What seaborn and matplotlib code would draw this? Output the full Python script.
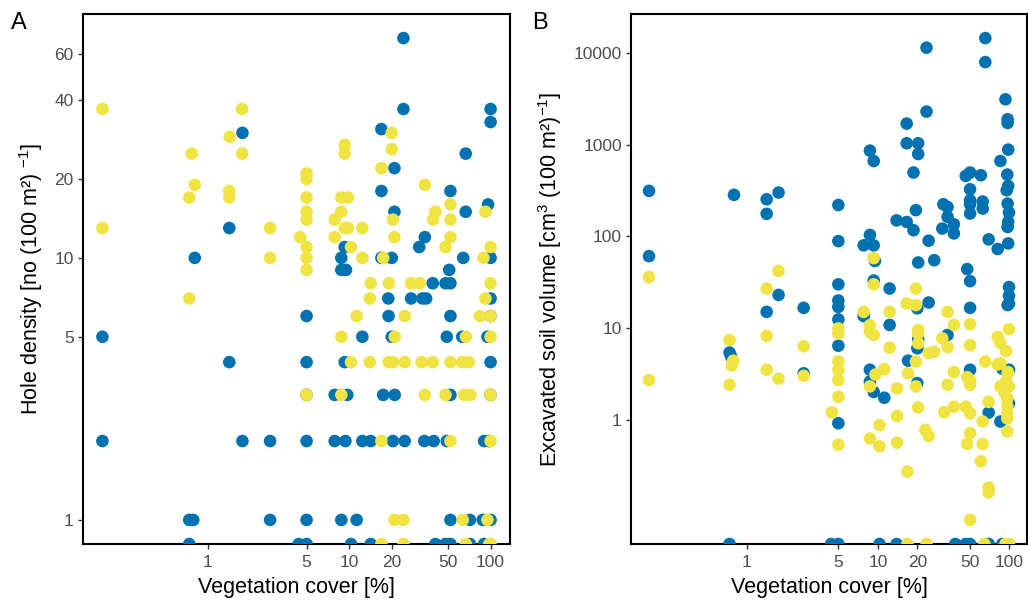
import numpy as np
import pandas as pd
import matplotlib
matplotlib.use("Agg")
import matplotlib.pyplot as plt
import seaborn as sns
from matplotlib.ticker import FixedLocator, FixedFormatter, NullLocator

# ---------------- data ----------------
# Panel A: hole density [no (100 m2)^-1] vs vegetation cover [%]
holes_blue_x = [24.2, 24.2, 100, 100, 16.9, 1.76, 66.7, 20.9, 16.9, 52, 96, 20.9, 66.7, 1.42,
                34.3, 9.3, 31.3, 0.81, 8.8, 16.9, 20, 64, 100, 8.8, 9.5, 51, 39, 48, 52,
                18.9, 27.4, 33, 35, 100,
                5, 19, 52, 100,
                12.4, 20, 49, 63, 95, 0.18,
                1.42, 5, 9.3, 100,
                5, 7.9, 9.7, 17.4, 21, 52, 100,
                0.18, 1.76, 2.76, 5, 7.9, 9.4, 12.4, 14.2, 20.4, 24.7, 34, 39.6, 49, 90, 98,
                0.74, 0.79, 2.76, 5, 8.8, 11.3, 52, 71.5, 88, 100,
                0.74, 4.4, 5, 10.3, 14.2, 40.7, 48, 52, 71.5, 90]
holes_blue_y = [69, 37, 37, 33, 31, 30, 25, 22, 18, 18, 16, 15, 15, 13,
                12, 11, 11, 10, 10, 10, 10, 10, 10, 9, 9, 9, 8, 8, 8,
                7, 7, 7, 7, 7,
                6, 6, 6, 6,
                5, 5, 5, 5, 5, 5,
                4, 4, 4, 4,
                3, 3, 3, 3, 3, 3, 3,
                2, 2, 2, 2, 2, 2, 2, 2, 2, 2, 2, 2, 2, 2, 2,
                1, 1, 1, 1, 1, 1, 1, 1, 1, 1,
                0, 0, 0, 0, 0, 0, 0, 0, 0, 0]

holes_yellow_x = [0.18, 0.18, 1.75, 1.43, 0.77, 1.75, 0.81, 0.74, 1.42, 1.42, 2.76, 2.76, 4.5,
                  5, 5, 5, 5, 5, 5, 5, 5, 7.9, 7.9, 8.8, 8.8, 9.8, 9.3, 9.3, 9.3, 9.8, 10.3,
                  12.4, 12.4, 14.2, 14, 20, 20, 16.9, 20.4, 20.9, 17.4, 19.1, 34.3, 40.7, 39.2,
                  27.4, 31.6, 52, 52, 52, 48, 92, 100, 89, 100, 92, 0.74,
                  11.3, 24.7, 84, 100,
                  8.8, 21, 67, 100,
                  10.3, 14, 19, 20.4, 24.7, 32.5, 39, 52, 63, 70,
                  5, 8.8, 34.3, 48, 65, 72, 100,
                  16.9, 52, 100,
                  20.9, 24.2, 63.6, 95,
                  16.9, 24.2, 66.7, 98, 100]
holes_yellow_y = [37, 13, 37, 29, 25, 25, 19, 17, 18, 17, 13, 10, 12,
                  21, 20, 17, 15, 14, 11, 10, 9, 14, 12, 15, 17, 17, 27, 25, 13, 13, 11,
                  13, 10, 8, 7, 30, 26, 22, 14, 12, 10, 8, 19, 15, 14,
                  8, 8, 16, 14, 12, 11, 15, 11, 10, 8, 7, 7,
                  6, 6, 6, 6,
                  5, 5, 5, 5,
                  4, 4, 4, 4, 4, 4, 4, 4, 4, 4,
                  3, 3, 3, 3, 3, 3, 3,
                  2, 2, 2,
                  1, 1, 1, 1,
                  0, 0, 0, 0, 0]

# Panel B: excavated soil volume [cm3 (100 m2)^-1] vs vegetation cover [%]
soil_blue_x = [0.18, 0.18, 0.80, 1.42, 1.42, 1.75, 1.75, 1.42, 0.74, 0.76, 2.72, 2.72,
               5, 5, 5, 5, 5, 5, 5, 5,
               8.7, 9.3, 8.7, 7.8, 9.3, 9.5, 9.3, 7.8, 8.7, 8.7, 9.3, 11.2,
               12.3, 12.3,
               13.9, 16.6, 18.7, 19.5, 18.7, 16.6, 16.6, 20.3, 20.3, 23.5, 23.5, 24.4, 20.3,
               26.9, 24.4, 20, 17, 20.3, 20, 20,
               31, 31.6, 34, 34, 38, 38, 34,
               46.8, 50.5, 50.5, 50.5, 50.5, 50.5, 48, 50.5, 50.5, 50.5,
               61, 63, 63, 66, 66, 70, 82, 86, 70,
               94, 97.6, 97.6, 98.6, 97, 98.6, 96, 97.6, 100, 98.6, 97.6, 98.6, 100, 100, 100,
               97.6, 89, 100, 100, 86,
               0.74, 4.4, 5, 10.3, 13.9, 39, 46.8, 50.5, 70, 89]
soil_blue_y = [315, 61, 285, 255, 177, 302, 23, 15, 5.4, 4.9, 16.6, 3.2,
               221, 89, 30, 20, 17, 12.4, 6.4, 0.91,
               868, 668, 104, 80, 80, 54, 33, 13.5, 3.5, 2.6, 2.0, 1.73,
               27, 10.8,
               150, 144, 117, 194, 500, 1713, 1044, 1044, 797, 11560, 2317, 90, 52,
               55, 19, 16.4, 4.4, 7.5, 6.0, 2.5,
               122, 225, 210, 164, 136, 108, 8.4,
               459, 500, 328, 249, 225, 178, 44, 32.5, 16.6, 3.5,
               467, 241, 202, 14720, 8050, 93, 73, 668, 1.19,
               3155, 1910, 1740, 890, 475, 357, 320, 229, 183, 144, 127, 84, 28, 22.5, 18.5,
               17.8, 3.6, 3.5, 1.5, 0.95,
               0, 0, 0, 0, 0, 0, 0, 0, 0, 0]

soil_yellow_x = [0.18, 0.18, 1.75, 1.42, 1.42, 1.42, 1.75, 0.74, 0.79, 0.77, 0.74, 2.72, 2.72,
                 5, 5, 5, 5, 5, 5, 5, 4.47,
                 9.3, 9.3, 7.8, 8.7, 8.7, 9.3, 9.6, 8.7, 11.2, 10.3, 8.7, 10.3,
                 12.3, 12.3, 14, 14, 14,
                 19.5, 16.6, 17, 19.5, 19.5, 20.3, 16.8, 19.5, 20.3, 20.3, 20.3,
                 24.4, 26.9, 23, 24.4,
                 31, 34, 34, 38, 38, 34, 32, 38, 46.8,
                 50.5, 50.5, 48, 50.5, 50.5, 50.5, 50.5, 48, 50.5,
                 63, 63, 61, 70, 70, 66, 70,
                 82, 86, 95, 82, 86, 100, 86, 95, 100, 92, 97, 97, 97, 97, 97, 98, 98,
                 16.8, 23.5, 65, 94, 100]
soil_yellow_y = [36, 2.7, 42, 27, 8.2, 3.5, 2.8, 7.4, 4.4, 3.9, 2.4, 6.3, 3.0,
                 9.9, 8.7, 4.3, 3.5, 2.7, 1.77, 0.53, 1.2,
                 58, 30, 15, 10.7, 9.1, 8.4, 3.1, 2.3, 3.55, 0.87, 0.62, 0.51,
                 15, 6.1, 2.19, 1.09, 0.56,
                 27, 18.6, 3.2, 4.3, 2.3, 1.36, 0.27, 17.8, 9.5, 8.7, 6.8,
                 5.3, 5.5, 0.77, 0.66,
                 7.7, 15, 6.2, 10.8, 3.3, 2.4, 1.2, 1.38, 1.38,
                 11, 6.5, 2.9, 2.7, 2.4, 1.17, 0.71, 0.54, 0.08,
                 0.95, 0.54, 0.35, 0.18, 0.16, 4.3, 1.56,
                 8.0, 6.9, 5.6, 4.0, 4.1, 9.7, 2.3, 2.6, 2.3, 2.0, 1.7, 1.4, 1.17, 1.03, 0.74, 3.2, 3.3,
                 0, 0, 0, 0, 0]

x_ticks = [1, 5, 10, 20, 50, 100]
x_tick_labels = ["1", "5", "10", "20", "50", "100"]
holes_ticks = [1, 5, 10, 20, 40, 60]
holes_tick_labels = ["1", "5", "10", "20", "40", "60"]
soil_ticks = [1, 10, 100, 1000, 10000]
soil_tick_labels = ["1", "10", "100", "1000", "10000"]

group_names = ["group 1", "group 2"]
palette = {"group 1": "#0072B2", "group 2": "#F0E442"}

# ---------------- styling ----------------
sns.set_theme(style="white")
plt.rcParams['font.family'] = ['Liberation Sans', 'DejaVu Sans']
plt.rcParams['mathtext.fontset'] = 'custom'
plt.rcParams['mathtext.rm'] = 'Liberation Sans'
plt.rcParams['mathtext.it'] = 'Liberation Sans:italic'
plt.rcParams['mathtext.bf'] = 'Liberation Sans:bold'


def log_limits(values, mult=0.05):
    v = np.asarray(values, dtype=float)
    v = v[v > 0]
    lo, hi = np.log10(v.min()), np.log10(v.max())
    pad = (hi - lo) * mult
    return 10 ** (lo - pad), 10 ** (hi + pad)


def make_frame(bx, by, yx, yy):
    return pd.DataFrame({
        "x": list(bx) + list(yx),
        "y": list(by) + list(yy),
        "group": [group_names[0]] * len(bx) + [group_names[1]] * len(yx),
    })


fig = plt.figure(figsize=(10.28, 6.05), dpi=100)
axA = fig.add_axes([83 / 1028, 61 / 605, 427 / 1028, 530 / 605])
axB = fig.add_axes([631 / 1028, 61 / 605, 396 / 1028, 530 / 605])

all_x = holes_blue_x + holes_yellow_x + soil_blue_x + soil_yellow_x
xlim = log_limits(all_x)

panels = [
    (axA, make_frame(holes_blue_x, holes_blue_y, holes_yellow_x, holes_yellow_y),
     holes_ticks, holes_tick_labels,
     "Hole density [no (100 m\u00b2) $^{-1}$]", -0.088, "A", 11 / 1028),
    (axB, make_frame(soil_blue_x, soil_blue_y, soil_yellow_x, soil_yellow_y),
     soil_ticks, soil_tick_labels,
     "Excavated soil volume [cm$^{3}$ (100 m\u00b2)$^{-1}$]", -0.168, "B", 532 / 1028),
]

for ax, df, yt, ytl, ylab, ylab_x, tag, tag_x in panels:
    ylim = log_limits(df["y"])
    # squish out-of-range (zero) values to the panel limits, as in the original
    df = df.assign(x=df["x"].clip(lower=xlim[0]), y=df["y"].clip(lower=ylim[0]))
    sns.scatterplot(data=df, x="x", y="y", hue="group", palette=palette,
                    s=82, linewidth=0, alpha=1, legend=False, ax=ax, zorder=3)
    ax.set_xscale("log")
    ax.set_yscale("log")
    ax.set_xlim(*xlim)
    ax.set_ylim(*ylim)
    ax.xaxis.set_major_locator(FixedLocator(x_ticks))
    ax.xaxis.set_major_formatter(FixedFormatter(x_tick_labels))
    ax.xaxis.set_minor_locator(NullLocator())
    ax.yaxis.set_major_locator(FixedLocator(yt))
    ax.yaxis.set_major_formatter(FixedFormatter(ytl))
    ax.yaxis.set_minor_locator(NullLocator())
    ax.tick_params(axis="both", which="major", direction="out", length=3.6, width=1.0,
                   color="#333333", labelcolor="#4D4D4D", labelsize=12.5, pad=3,
                   bottom=True, left=True)
    ax.tick_params(axis="x", pad=4.5)
    for sp in ax.spines.values():
        sp.set_visible(True)
        sp.set_color("black")
        sp.set_linewidth(1.5)
    ax.set_xlabel("Vegetation cover [%]", fontsize=15.5, color="black")
    ax.set_ylabel(ylab, fontsize=15.5, color="black")
    ax.xaxis.set_label_coords(0.5, -0.062)
    ax.yaxis.set_label_coords(ylab_x, 0.5)
    ax.grid(False)
    ax.set_facecolor("white")
    fig.text(tag_x, 1 - 29 / 605, tag, fontsize=17, color="black", va="baseline", ha="left")

fig.savefig("out.png", dpi=100, facecolor="white")
